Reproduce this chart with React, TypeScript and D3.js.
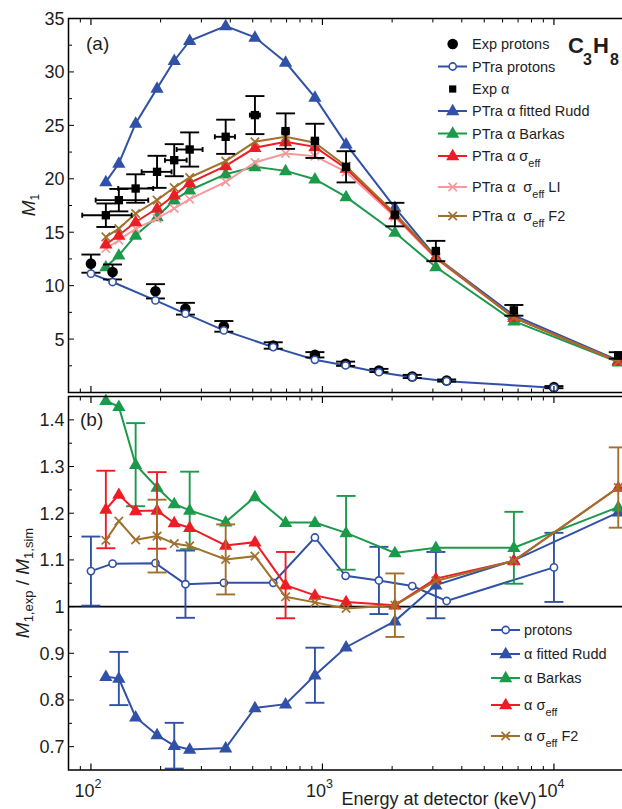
import React from 'react';
import * as d3 from 'd3';

// ---------- data ----------
const protonE = [100, 124, 190, 256, 375, 613, 928, 1259, 1754, 2443, 3440, 10000];
const expProton = [12.06, 11.28, 9.47, 7.84, 6.19, 4.4, 3.53, 2.69, 2.06, 1.5, 1.12, 0.5];
const expProtonErr = [0.85, 0.7, 0.67, 0.55, 0.5, 0.3, 0.25, 0.2, 0.15, 0.15, 0.1, 0.1];
const simProton = [11.12, 10.34, 8.62, 7.38, 5.81, 4.25, 3.06, 2.53, 1.9, 1.43, 1.06, 0.44];

const alphaE = [116, 132, 156, 193, 229, 267, 382, 511, 693, 928, 1265, 2056, 3090, 6714, 18960];
const expAlpha = [16.59, 18.0, 19.09, 20.65, 21.74, 22.74, 23.93, 25.96, 24.46, 23.55, 21.12, 16.65, 13.24, 7.69, 3.47];
const expAlphaErr = [1.1, 1.05, 1.33, 1.5, 1.5, 1.6, 1.6, 1.78, 1.66, 1.6, 1.46, 1.1, 0.95, 0.5, 0.3];
const expAlphaELo = [91.7, 104.8, 131.2, 165.6, 208.8, 234.6, 343, 486, 672, 900, 1227, 1994, 2997, 6512, 18390];
const expAlphaEHi = [149.9, 176.8, 185.8, 223, 259, 303.6, 419, 537, 714, 956, 1303, 2118, 3183, 6915, 19530];
const ruddAlpha = [19.71, 21.43, 25.18, 28.46, 31.05, 32.92, 34.3, 33.24, 30.9, 27.62, 23.24, 17.31, 12.68, 7.22, 3.0];
const barkasAlpha = [11.74, 12.84, 14.71, 16.43, 18.0, 18.93, 20.43, 21.12, 20.74, 19.96, 18.3, 14.97, 11.74, 6.68, 2.84];
const sigEffAlpha = [13.87, 14.71, 15.96, 17.22, 18.46, 19.62, 21.21, 22.9, 23.46, 22.99, 20.96, 16.59, 12.62, 7.0, 2.9];
const sigEffLIAlpha = [13.47, 14.25, 15.34, 16.28, 17.22, 18.09, 19.71, 21.53, 22.37, 22.12, 20.65, 16.43, 12.53, 7.0, 2.9];
const sigEffF2Alpha = [14.56, 15.34, 16.75, 18.0, 19.18, 20.12, 21.65, 23.46, 23.93, 23.37, 21.18, 16.75, 12.68, 7.0, 2.9];

// ratios (panel b)
const ratioProton = [1.076, 1.092, 1.093, 1.048, 1.051, 1.051, 1.148, 1.066, 1.056, 1.044, 1.012, 1.084];
const ratioProtonErrIdx = [0, 3, 8, 11];
const ratioProtonErr = [0.074, 0.072, 0.072, 0.074];
const ratioRudd = [0.85, 0.846, 0.763, 0.725, 0.702, 0.694, 0.697, 0.783, 0.791, 0.853, 0.913, 0.969, 1.046, 1.099, 1.202];
const ratioRuddErrIdx = [1, 4, 9, 12];
const ratioRuddErr = [0.057, 0.049, 0.059, 0.071];
const ratioBarkas = [1.441, 1.428, 1.304, 1.255, 1.22, 1.206, 1.181, 1.235, 1.18, 1.18, 1.158, 1.115, 1.126, 1.126, 1.213];
const ratioBarkasErrIdx = [2, 5, 10, 13];
const ratioBarkasErr = [0.089, 0.083, 0.079, 0.077];
const ratioSig = [1.208, 1.24, 1.205, 1.206, 1.179, 1.169, 1.131, 1.138, 1.046, 1.024, 1.01, 1.003, 1.06, 1.098, 1.255];
const ratioSigErrIdx = [0, 3, 8];
const ratioSigErr = [0.083, 0.082, 0.071];
const ratioF2 = [1.142, 1.183, 1.143, 1.151, 1.135, 1.13, 1.101, 1.108, 1.021, 1.009, 0.996, 1.003, 1.055, 1.098, 1.255];
const ratioF2ErrIdx = [3, 6, 11, 14];
const ratioF2Err = [0.078, 0.075, 0.068, 0.086];

const topYTicks = [5, 10, 15, 20, 25, 30, 35];
const botYTicks = [0.7, 0.8, 0.9, 1.0, 1.1, 1.2, 1.3, 1.4];
const xMajor = [100, 1000, 10000];
const xMajorLabels = ['2', '3', '4'];

// ---------- style ----------
const BLUE = '#3151a6';
const GREEN = '#1c9a4b';
const RED = '#ee1d25';
const PINK = '#f5999c';
const BROWN = '#a0702d';
const FONT = 'Liberation Sans, Arial, Helvetica, sans-serif';
const TXT = '#1e1e1e';

const W = 622, H = 809;
const X0 = 68.5;
const X1 = X0 + 231.5 * Math.log10(20000 / 80);
const TOP = { y0: 18.5, y1: 392.5 };
const BOT = { y0: 396.5, y1: 770 };

const triPath = d3.symbol().type(d3.symbolTriangle).size(76)() as string;
const sqPath = d3.symbol().type(d3.symbolSquare).size(70)() as string;
const sqPathLeg = d3.symbol().type(d3.symbolSquare).size(52)() as string;

type Mk = 'tri' | 'circ' | 'ocirc' | 'sq' | 'x';

function Marker({ t, cx, cy, c, leg }: { t: Mk; cx: number; cy: number; c: string; leg?: boolean }) {
  if (t === 'tri') return <path d={triPath} transform={`translate(${cx},${cy + 0.5})`} fill={c} />;
  if (t === 'sq') return <path d={leg ? sqPathLeg : sqPath} transform={`translate(${cx},${cy})`} fill={c} />;
  if (t === 'circ') return <circle cx={cx} cy={cy} r={5.3} fill={c} />;
  if (t === 'ocirc') return <circle cx={cx} cy={cy} r={3.6} fill="#fff" stroke={c} strokeWidth={1.6} />;
  const s = 4.2;
  return (
    <path d={`M${cx - s},${cy - s}L${cx + s},${cy + s}M${cx - s},${cy + s}L${cx + s},${cy - s}`} stroke={c} strokeWidth={1.7} fill="none" />
  );
}

export default function App() {
  const x = d3.scaleLog().domain([80, 20000]).range([X0, X1]);
  const yT = d3.scaleLinear().domain([0, 35]).range([TOP.y1, TOP.y0]);
  const yB = d3.scaleLinear().domain([0.65, 1.45]).range([BOT.y1, BOT.y0]);

  const lineGen = (xs: number[], ys: number[], yS: any) =>
    d3.line<number>().x((_, i) => x(xs[i])).y((v) => yS(v))(ys) as string;

  const capW = 9.5;
  const vErr = (cx: number, yLo: number, yHi: number, c: string, key: string) => (
    <g key={key} stroke={c} strokeWidth={1.9} fill="none">
      <line x1={cx} x2={cx} y1={yLo} y2={yHi} />
      <line x1={cx - capW} x2={cx + capW} y1={yLo} y2={yLo} />
      <line x1={cx - capW} x2={cx + capW} y1={yHi} y2={yHi} />
    </g>
  );

  // x ticks
  const minorX: number[] = [];
  for (let p = 1; p <= 4; p++) {
    for (let k = 2; k <= 9; k++) {
      const v = k * Math.pow(10, p);
      if (v >= 80 && v <= 20000 && !xMajor.includes(v)) minorX.push(v);
    }
  }
  const topMinorY = d3.range(2.5, 35, 5);
  const botMinorY = d3.range(0.75, 1.45, 0.1);

  const xTicksOn = (yEdge: number, dir: number, key: string) => (
    <g key={key} stroke="#000" strokeWidth={1}>
      {minorX.map((v) => (
        <line key={v} x1={x(v)} x2={x(v)} y1={yEdge} y2={yEdge + dir * 4} />
      ))}
      {xMajor.map((v) => (
        <line key={v} x1={x(v)} x2={x(v)} y1={yEdge} y2={yEdge + dir * 6.5} strokeWidth={1.2} />
      ))}
    </g>
  );

  const topSeries = [
    { ys: ruddAlpha, c: BLUE, m: 'tri' as Mk },
    { ys: barkasAlpha, c: GREEN, m: 'tri' as Mk },
    { ys: sigEffLIAlpha, c: PINK, m: 'x' as Mk },
    { ys: sigEffAlpha, c: RED, m: 'tri' as Mk },
    { ys: sigEffF2Alpha, c: BROWN, m: 'x' as Mk },
  ];

  const botSeries = [
    { xs: protonE, ys: ratioProton, c: BLUE, m: 'ocirc' as Mk, ei: ratioProtonErrIdx, ev: ratioProtonErr },
    { xs: alphaE, ys: ratioRudd, c: BLUE, m: 'tri' as Mk, ei: ratioRuddErrIdx, ev: ratioRuddErr },
    { xs: alphaE, ys: ratioBarkas, c: GREEN, m: 'tri' as Mk, ei: ratioBarkasErrIdx, ev: ratioBarkasErr },
    { xs: alphaE, ys: ratioSig, c: RED, m: 'tri' as Mk, ei: ratioSigErrIdx, ev: ratioSigErr },
    { xs: alphaE, ys: ratioF2, c: BROWN, m: 'x' as Mk, ei: ratioF2ErrIdx, ev: ratioF2Err },
  ];

  const NB = '\u00a0';
  // legends
  const topLeg = [
    { y: 44, label: <tspan>Exp protons</tspan>, m: 'circ' as Mk, c: '#000', line: false },
    { y: 66.5, label: <tspan>PTra protons</tspan>, m: 'ocirc' as Mk, c: BLUE, line: true },
    { y: 89, label: <tspan>Exp α</tspan>, m: 'sq' as Mk, c: '#000', line: false },
    { y: 111, label: <tspan>PTra α fitted Rudd</tspan>, m: 'tri' as Mk, c: BLUE, line: true },
    { y: 133.5, label: <tspan>PTra α Barkas</tspan>, m: 'tri' as Mk, c: GREEN, line: true },
    {
      y: 156, m: 'tri' as Mk, c: RED, line: true,
      label: (<><tspan>PTra α σ</tspan><tspan dy={6} fontSize={11}>eff</tspan></>),
    },
    {
      y: 187, m: 'x' as Mk, c: PINK, line: true,
      label: (<><tspan>{'PTra α' + NB + NB + 'σ'}</tspan><tspan dy={6} fontSize={11}>eff</tspan><tspan dy={-6}>{NB + 'LI'}</tspan></>),
    },
    {
      y: 216, m: 'x' as Mk, c: BROWN, line: true,
      label: (<><tspan>{'PTra α' + NB + NB + 'σ'}</tspan><tspan dy={6} fontSize={11}>eff</tspan><tspan dy={-6}>{NB + 'F2'}</tspan></>),
    },
  ];
  const botLeg = [
    { y: 630, label: <tspan>protons</tspan>, m: 'ocirc' as Mk, c: BLUE },
    { y: 654, label: <tspan>α fitted Rudd</tspan>, m: 'tri' as Mk, c: BLUE },
    { y: 678, label: <tspan>α Barkas</tspan>, m: 'tri' as Mk, c: GREEN },
    { y: 705, label: (<><tspan>α σ</tspan><tspan dy={6} fontSize={11}>eff</tspan></>), m: 'tri' as Mk, c: RED },
    { y: 736, label: (<><tspan>α σ</tspan><tspan dy={6} fontSize={11}>eff</tspan><tspan dy={-6}>{NB + 'F2'}</tspan></>), m: 'x' as Mk, c: BROWN },
  ];

  return (
    <svg width={W} height={H} style={{ position: 'absolute', left: 0, top: 0, background: '#fff' }} fontFamily={FONT}>
      <rect x={0} y={0} width={W} height={H} fill="#fff" />

      {/* ---------- panel (a) ---------- */}
      {topSeries.map((s, si) => (
        <g key={'ts' + si}>
          <path d={lineGen(alphaE, s.ys, yT)} fill="none" stroke={s.c} strokeWidth={2} />
          {s.ys.map((v, i) => (
            <Marker key={i} t={s.m} cx={x(alphaE[i])} cy={yT(v)} c={s.c} />
          ))}
        </g>
      ))}
      <path d={lineGen(protonE, simProton, yT)} fill="none" stroke={BLUE} strokeWidth={2} />
      {expProton.map((v, i) => vErr(x(protonE[i]), yT(v - expProtonErr[i]), yT(v + expProtonErr[i]), '#000', 'epe' + i))}
      {expProton.map((v, i) => (
        <Marker key={'ep' + i} t="circ" cx={x(protonE[i])} cy={yT(v)} c="#000" />
      ))}
      {simProton.map((v, i) => (
        <Marker key={'sp' + i} t="ocirc" cx={x(protonE[i])} cy={yT(v)} c={BLUE} />
      ))}
      {expAlpha.map((v, i) => (
        <g key={'eae' + i}>
          {vErr(x(alphaE[i]), yT(v - expAlphaErr[i]), yT(v + expAlphaErr[i]), '#000', 'v' + i)}
          <g stroke="#000" strokeWidth={1.9}>
            <line x1={x(expAlphaELo[i])} x2={x(expAlphaEHi[i])} y1={yT(v)} y2={yT(v)} />
            <line x1={x(expAlphaELo[i])} x2={x(expAlphaELo[i])} y1={yT(v) - 2.5} y2={yT(v) + 2.5} />
            <line x1={x(expAlphaEHi[i])} x2={x(expAlphaEHi[i])} y1={yT(v) - 2.5} y2={yT(v) + 2.5} />
          </g>
        </g>
      ))}
      {expAlpha.map((v, i) => (
        <Marker key={'ea' + i} t="sq" cx={x(alphaE[i])} cy={yT(v)} c="#000" />
      ))}

      <rect x={X0} y={TOP.y0} width={X1 - X0} height={TOP.y1 - TOP.y0} fill="none" stroke="#000" strokeWidth={1.5} />
      {xTicksOn(TOP.y1, -1, 'tb')}
      {xTicksOn(TOP.y0, 1, 'tt')}
      <g stroke="#000" strokeWidth={1}>
        {topYTicks.map((v) => (
          <line key={v} x1={X0} x2={X0 + 5.5} y1={yT(v)} y2={yT(v)} />
        ))}
        {topMinorY.map((v) => (
          <line key={v} x1={X0} x2={X0 + 3.5} y1={yT(v)} y2={yT(v)} />
        ))}
      </g>
      <g fontSize={18} textAnchor="end" fill={TXT}>
        {topYTicks.map((v) => (
          <text key={v} x={64.5} y={yT(v)} dy="0.36em">{v}</text>
        ))}
      </g>
      <text x={86} y={50} fontSize={19} fill={TXT}>(a)</text>
      <text transform="translate(35,205) rotate(-90)" textAnchor="middle" fontSize={19} fill={TXT}>
        <tspan fontStyle="italic">M</tspan>
        <tspan dy={4} fontSize={12}>1</tspan>
      </text>
      <g fontWeight="bold" fill={TXT}>
        <text x={568} y={53} fontSize={22}>C</text>
        <text x={583} y={65} fontSize={16}>3</text>
        <text x={593} y={53} fontSize={22}>H</text>
        <text x={610} y={65} fontSize={16}>8</text>
      </g>

      {topLeg.map((e, i) => (
        <g key={'tl' + i}>
          {e.line && <line x1={438} x2={467} y1={e.y} y2={e.y} stroke={e.c} strokeWidth={2} />}
          <Marker t={e.m} cx={452.7} cy={e.y} c={e.c} leg />
          <text x={472} y={e.y + 5} fontSize={14.5} fill={TXT}>{e.label}</text>
        </g>
      ))}

      {/* ---------- panel (b) ---------- */}
      <line x1={X0} x2={X1} y1={yB(1)} y2={yB(1)} stroke="#000" strokeWidth={1.6} />
      {botSeries.map((s, si) => (
        <g key={'bs' + si}>
          <path d={lineGen(s.xs, s.ys, yB)} fill="none" stroke={s.c} strokeWidth={2} />
          {s.ei.map((idx, k) =>
            vErr(x(s.xs[idx]), yB(Math.max(0.65, s.ys[idx] - s.ev[k])), yB(s.ys[idx] + s.ev[k]), s.c, 'be' + si + '_' + k)
          )}
          {s.ys.map((v, i) => (
            <Marker key={i} t={s.m} cx={x(s.xs[i])} cy={yB(v)} c={s.c} />
          ))}
        </g>
      ))}

      <rect x={X0} y={BOT.y0} width={X1 - X0} height={BOT.y1 - BOT.y0} fill="none" stroke="#000" strokeWidth={1.5} />
      {xTicksOn(BOT.y1, -1, 'bb')}
      {xTicksOn(BOT.y0, 1, 'bt')}
      <g stroke="#000" strokeWidth={1}>
        {botYTicks.map((v) => (
          <line key={v} x1={X0} x2={X0 + 5.5} y1={yB(v)} y2={yB(v)} />
        ))}
        {botMinorY.map((v) => (
          <line key={v} x1={X0} x2={X0 + 3.5} y1={yB(v)} y2={yB(v)} />
        ))}
      </g>
      <g fontSize={18} textAnchor="end" fill={TXT}>
        {botYTicks.map((v) => (
          <text key={v} x={64.5} y={yB(v)} dy="0.36em">{String(+v.toFixed(1))}</text>
        ))}
      </g>
      <text x={80} y={426} fontSize={19} fill={TXT}>(b)</text>
      <text transform="translate(29,583) rotate(-90)" textAnchor="middle" fontSize={19} fill={TXT}>
        <tspan fontStyle="italic">M</tspan>
        <tspan dy={4} fontSize={13}>1,exp</tspan>
        <tspan dy={-4}>{NB + '/' + NB}</tspan>
        <tspan fontStyle="italic">M</tspan>
        <tspan dy={4} fontSize={13}>1,sim</tspan>
      </text>

      {botLeg.map((e, i) => (
        <g key={'bl' + i}>
          <line x1={491} x2={520} y1={e.y} y2={e.y} stroke={e.c} strokeWidth={2} />
          <Marker t={e.m} cx={505.7} cy={e.y} c={e.c} leg />
          <text x={524} y={e.y + 5} fontSize={14.5} fill={TXT}>{e.label}</text>
        </g>
      ))}

      <g fontSize={18} fill={TXT}>
        {xMajor.map((v, i) => (
          <text key={v} x={x(v) - 3} y={797} textAnchor="middle">
            <tspan>10</tspan>
            <tspan dy={-9} fontSize={12.5}>{xMajorLabels[i]}</tspan>
          </text>
        ))}
      </g>
      <text x={439} y={805} textAnchor="middle" fontSize={18} fill={TXT}>Energy at detector (keV)</text>
    </svg>
  );
}
